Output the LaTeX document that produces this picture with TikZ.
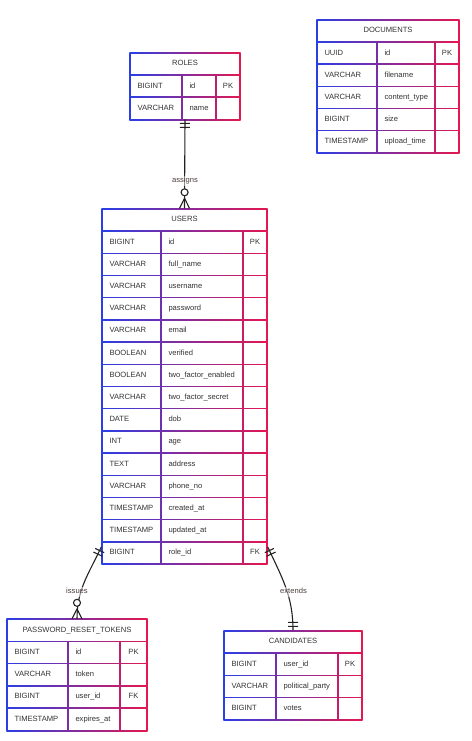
\documentclass[tikz,border=0pt]{standalone}
\usepackage{fontspec}
\setmainfont{Liberation Sans}
\usetikzlibrary{positioning, decorations.markings}
\hyphenpenalty=10000
\exhyphenpenalty=10000
\definecolor{erblue}{HTML}{2A3FE6}
\definecolor{erred}{HTML}{E5174F}
\definecolor{ertext}{HTML}{333333}
\definecolor{erline}{HTML}{222222}
\definecolor{erlabel}{HTML}{4D3D3D}
\tikzset{
    x=1pt, y=1pt, % one unit is one pixel of the reference
    erfont/.style={font=\fontsize{7.6}{9}\selectfont, text=ertext, text height=5.7pt, text depth=1.8pt},
    tableshade/.style={left color=erblue, right color=erred}, % gradient border of a table
    headcell/.style={erfont, fill=white, anchor=north west, inner sep=0pt, outer sep=0pt, minimum height=20.6pt},
    cell/.style={erfont, fill=white, anchor=north west, inner xsep=6.8pt, inner ysep=0pt, outer sep=0pt, minimum height=20.8pt, align=left, text width=#1},
    keycell/.style={erfont, fill=white, anchor=north west, inner sep=0pt, outer sep=0pt, minimum height=20.8pt, minimum width=#1},
    relation/.style={draw=erline, line width=1.1pt},
    relmark/.style={draw=erline, line width=1.1pt},
    one start/.style={postaction={decorate, decoration={markings, mark=at position 0 with {\draw[relmark] (4pt,-5pt) -- (4pt,5pt) (8pt,-5pt) -- (8pt,5pt);}}}}, % exactly one
    one end/.style={postaction={decorate, decoration={markings, mark=at position 1 with {\draw[relmark] (-4pt,-5pt) -- (-4pt,5pt) (-8pt,-5pt) -- (-8pt,5pt);}}}},
    many end/.style={postaction={decorate, decoration={markings, mark=at position 1 with {\draw[relmark] (-10pt,0) -- (0,5pt) (-10pt,0) -- (0,-5pt); \draw[relmark, fill=white] (-16pt,0) circle (3.5pt);}}}}, % zero or many
    rellabel/.style={erfont, text=erlabel, fill=white, fill opacity=0.5, text opacity=1, inner sep=1pt},
}
\begin{document}
\begin{tikzpicture}
    \useasboundingbox (0,0) rectangle (471,-741);

    % roles
    \shade[tableshade] (129.3,-52.3) rectangle (240.7,-120.1);
    \node[headcell, minimum width=108.6pt] (roles) at (130.7,-53.7) {ROLES};
    \foreach \ty/\nm/\ky [count=\i] in {BIGINT/id/PK, VARCHAR/name/{}}{
        \node[cell=37pt] (roles-\i) at (130.7,{-75.7-(\i-1)*22.2}) {\ty};
        \node[cell=19pt, right=1.4pt of roles-\i] (roles-\i-n) {\nm};
        \node[keycell=22.6pt, right=1.4pt of roles-\i-n] (roles-\i-k) {\ky};
    }

    % documents
    \shade[tableshade] (316.3,-19.3) rectangle (459.7,-153.7);
    \node[headcell, minimum width=140.6pt] (documents) at (317.7,-20.7) {DOCUMENTS};
    \foreach \ty/\nm/\ky [count=\i] in {UUID/id/PK, VARCHAR/filename/{}, VARCHAR/content\_type/{}, BIGINT/size/{}, TIMESTAMP/upload\_time/{}}{
        \node[cell=45pt] (documents-\i) at (317.7,{-42.7-(\i-1)*22.2}) {\ty};
        \node[cell=43pt, right=1.4pt of documents-\i] (documents-\i-n) {\nm};
        \node[keycell=22.6pt, right=1.4pt of documents-\i-n] (documents-\i-k) {\ky};
    }

    % users
    \shade[tableshade] (101.3,-208.3) rectangle (267.7,-564.7);
    \node[headcell, minimum width=163.6pt] (users) at (102.7,-209.7) {USERS};
    \foreach \ty/\nm/\ky [count=\i] in {BIGINT/id/PK, VARCHAR/full\_name/{}, VARCHAR/username/{}, VARCHAR/password/{}, VARCHAR/email/{}, BOOLEAN/verified/{}, BOOLEAN/two\_factor\_enabled/{}, VARCHAR/two\_factor\_secret/{}, DATE/dob/{}, INT/age/{}, TEXT/address/{}, VARCHAR/phone\_no/{}, TIMESTAMP/created\_at/{}, TIMESTAMP/updated\_at/{}, BIGINT/role\_id/FK}{
        \node[cell=44pt] (users-\i) at (102.7,{-231.7-(\i-1)*22.2}) {\ty};
        \node[cell=67pt, right=1.4pt of users-\i] (users-\i-n) {\nm};
        \node[keycell=22.6pt, right=1.4pt of users-\i-n] (users-\i-k) {\ky};
    }

    % password reset tokens
    \shade[tableshade] (6.3,-618.8) rectangle (147.7,-731);
    \node[headcell, minimum width=138.6pt] (tokens) at (7.7,-620.2) {PASSWORD\_RESET\_TOKENS};
    \foreach \ty/\nm/\ky [count=\i] in {BIGINT/id/PK, VARCHAR/token/{}, BIGINT/user\_id/FK, TIMESTAMP/expires\_at/{}}{
        \node[cell=46pt] (tokens-\i) at (7.7,{-642.2-(\i-1)*22.2}) {\ty};
        \node[cell=37pt, right=1.4pt of tokens-\i] (tokens-\i-n) {\nm};
        \node[keycell=25.6pt, right=1.4pt of tokens-\i-n] (tokens-\i-k) {\ky};
    }

    % candidates
    \shade[tableshade] (223.3,-630.3) rectangle (362.7,-720.3);
    \node[headcell, minimum width=136.6pt] (candidates) at (224.7,-631.7) {CANDIDATES};
    \foreach \ty/\nm/\ky [count=\i] in {BIGINT/user\_id/PK, VARCHAR/political\_party/{}, BIGINT/votes/{}}{
        \node[cell=37pt] (candidates-\i) at (224.7,{-653.7-(\i-1)*22.2}) {\ty};
        \node[cell=47pt, right=1.4pt of candidates-\i] (candidates-\i-n) {\nm};
        \node[keycell=22.6pt, right=1.4pt of candidates-\i-n] (candidates-\i-k) {\ky};
    }

    % relations
    \draw[relation, one start, many end] ([yshift=-0.7pt]roles-2.south -| roles.south) -- ([yshift=1.4pt]users.north);
    \draw[relation, one start, many end] ([xshift=-1.4pt, yshift=6pt]users-15.west) to[out=245, in=90] ([yshift=1.4pt]tokens.north);
    \draw[relation, one start, one end] ([xshift=1.4pt, yshift=6pt]users-15-k.east) to[out=-65, in=90] ([yshift=1.4pt]candidates.north);
    \node[rellabel] (assigns-label) at (185,-181) {assigns};
    \node[rellabel] (issues-label) at (77,-592) {issues};
    \node[rellabel] (extends-label) at (293.5,-592) {extends};
\end{tikzpicture}
\end{document}
